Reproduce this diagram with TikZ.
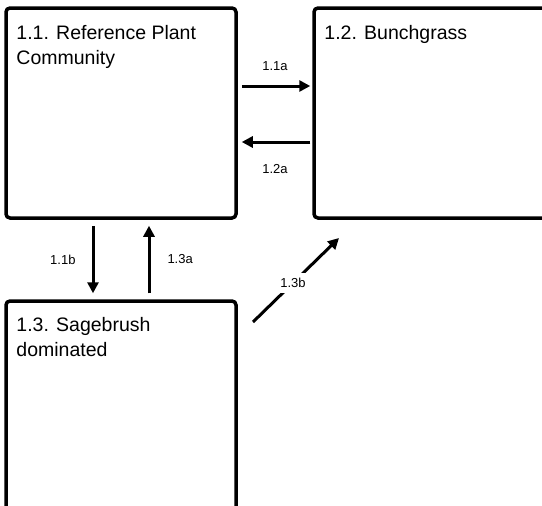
\documentclass[tikz,border=0pt]{standalone}
\usepackage{fontspec}
\setmainfont{Liberation Sans}
\usetikzlibrary{positioning,arrows.meta}

\tikzset{
  statebox/.style={draw, line width=3.5pt, rounded corners=4pt, inner sep=0pt,
    minimum width=230pt, minimum height=210pt},
  boxtitle/.style={inner sep=0pt, align=left, font=\fontsize{19.5}{25}\selectfont},
  trans/.style={line width=3pt, -{Triangle[length=11pt,width=11pt]}},
  translabel/.style={inner sep=0pt, font=\fontsize{13}{14}\selectfont}
}

\begin{document}
\begin{tikzpicture}[x=1pt, y=-1pt]
        % Page size
        \useasboundingbox (0,0) rectangle (542,506);
        \clip (0,0) rectangle (542,506);

        % States
        \node[statebox] (b1) at (121,113) {};
        \node[statebox, minimum width=240pt] (b2) at (434,113) {};
        \node[statebox] (b3) at (121,406) {};

        % State names
        \node[boxtitle, below right=18.5pt and 12pt of b1.north west] (t1) {1.1. Reference Plant\\Community};
        \node[boxtitle, below right=18.5pt and 12pt of b2.north west] (t2) {1.2. Bunchgrass};
        \node[boxtitle, below right=17.5pt and 12pt of b3.north west] (t3) {1.3. Sagebrush\\dominated};

        % Free ends of the diagonal arrow
        \coordinate (s3b) at (253,322);
        \coordinate (e3b) at (339,238);

        % Transitions between 1.1 and 1.2
        \draw[trans, shorten <=4pt, shorten >=2pt] ([yshift=27pt]b1.east) -- ([yshift=27pt]b2.west)
            node[translabel, midway, above=14pt] (l11a) {1.1a};
        \draw[trans, shorten <=2pt, shorten >=4pt] ([yshift=-29pt]b2.west) -- ([yshift=-29pt]b1.east)
            node[translabel, midway, below=21pt] (l12a) {1.2a};

        % Transitions between 1.1 and 1.3
        \draw[trans, shorten <=6pt, shorten >=6pt] ([xshift=-28pt]b1.south) -- ([xshift=-28pt]b3.north)
            node[translabel, midway, left=16pt] (l11b) {1.1b};
        \draw[trans, shorten <=6pt, shorten >=6pt] ([xshift=28pt]b3.north) -- ([xshift=28pt]b1.south)
            node[translabel, midway, right=17pt] (l13a) {1.3a};

        % Transition from 1.3 to 1.2
        \draw[trans] (s3b) -- (e3b)
            node[translabel, midway, fill=white, inner sep=5pt, xshift=-3pt, yshift=-3pt] (l13b) {1.3b};
\end{tikzpicture}
\end{document}
